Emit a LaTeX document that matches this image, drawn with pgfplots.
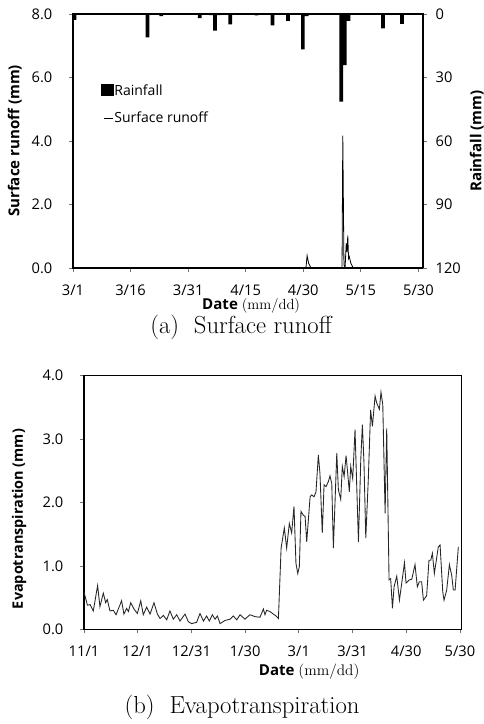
\documentclass[border=0pt]{standalone}
\usepackage{fontspec}
\setsansfont{Open Sans}
\usepackage{pgfplots}
\pgfplotsset{compat=1.18}

\pgfplotsset{
  common/.style={
    scale only axis,
    axis line style={line width=1.1pt},
    tick style={black!55, line width=0.6pt},
    major tick length=3pt,
    tick align=outside,
    ticklabel style={font=\sffamily\fontsize{11}{13}\selectfont},
    /pgf/number format/assume math mode=true,
    label style={font=\sffamily\fontsize{11.3}{13}\selectfont},
  },
  onedec/.style={yticklabel={\pgfmathprintnumber[fixed,fixed zerofill,precision=1]{\tick}}},
}

\begin{document}
\begin{tikzpicture}
\path[use as bounding box] (0,0) rectangle (363pt,-543pt);

% (a) surface runoff, left axis
\begin{axis}[common, onedec,
  at={(54.75pt,-201pt)}, anchor=south west,
  width=262.5pt, height=190.5pt,
  xmin=0, xmax=91.2, ymin=0, ymax=8,
  xtick={0,15,30,45,60,75,90},
  xticklabels={3/1,3/16,3/31,4/15,4/30,5/15,5/30},
  ytick={0,2,4,6,8},
  xtick pos=bottom, ytick pos=left,
  xticklabel style={yshift=-6pt},
  yticklabel style={xshift=-9pt},
  ylabel={\bfseries Surface runoff (mm)},
  ylabel style={at={(axis description cs:-0.166,0.5)}, anchor=center},
  xlabel={\bfseries Date {\rmfamily\mdseries\fontsize{11}{12}\selectfont(mm/dd)}},
  xlabel style={at={(axis description cs:0.509,-0.148)}, anchor=center},
]
\addplot[black, line width=0.6pt] coordinates {
(0,0) (60.7,0) (61.0,0.39) (61.4,0.15) (62.0,0) (70.1,0) (70.3,4.17)
(70.6,0.1) (70.9,0.02) (71.2,0.78) (71.4,0.5) (71.6,1.02) (71.8,0.3)
(72.0,0.36) (72.4,0.15) (73.0,0) (91.2,0)
};
\end{axis}

% (a) rainfall, right axis, reversed
\begin{axis}[common,
  at={(54.75pt,-201pt)}, anchor=south west,
  width=262.5pt, height=190.5pt,
  xmin=0, xmax=91.2, ymin=0, ymax=120, y dir=reverse,
  axis x line=none, axis y line*=right,
  ytick={0,30,60,90,120},
  yticklabel style={xshift=3pt},
  ybar, bar width=2.8pt,
  ylabel={\bfseries Rainfall (mm)},
  ylabel style={at={(axis description cs:1.154,0.5)}, anchor=center},
  legend style={draw=none, fill=none, at={(0.068,0.745)}, anchor=north west,
    font=\sffamily\fontsize{10.5}{12}\selectfont, row sep=7pt,
    nodes={inner xsep=0.5pt}},
  legend cell align=left,
]
\addplot[fill=black, draw=none, bar shift=0pt,
  legend image code/.code={\fill[black] (0pt,-4pt) rectangle (9.5pt,5pt);}]
  coordinates {
(0.4,2.8) (19.4,11) (23,1) (33,1.9) (36,0.5) (37,7.9) (38,0.5) (41,4.9)
(47.8,0.7) (52,5.4) (56,3.2) (59.9,16.7) (60.9,1) (69.9,41.4) (70.8,24.1)
(71.8,3.3) (80.8,6.8) (85.7,4.7)
};
\addlegendentry{Rainfall}
\addlegendimage{legend image code/.code={\draw[black, line width=0.6pt] (2pt,0pt) -- (9pt,0pt);}}
\addlegendentry{Surface runoff}
\end{axis}

\node[font=\fontsize{18.5}{21}\selectfont] at (180.75pt,-245.5pt) {(a)~~Surface runoff};

% (b) evapotranspiration
\begin{axis}[common, onedec,
  at={(63pt,-471.98pt)}, anchor=south west,
  width=283.3pt, height=190.2pt,
  xmin=0, xmax=211, ymin=0, ymax=4,
  xtick={0,30,60,90,120,150,180,210},
  xticklabels={11/1,12/1,12/31,1/30,3/1,3/31,4/30,5/30},
  ytick={0,1,2,3,4},
  xtick pos=bottom, ytick pos=left,
  xticklabel style={yshift=-6pt},
  yticklabel style={xshift=-9pt},
  ylabel={\bfseries Evapotranspiration (mm)},
  ylabel style={at={(axis description cs:-0.172,0.435)}, anchor=center,
    font=\sffamily\fontsize{10.8}{13}\selectfont},
  xlabel={\bfseries Date {\rmfamily\mdseries\fontsize{11.5}{12}\selectfont(mm/dd)}},
  xlabel style={at={(axis description cs:0.596,-0.168)}, anchor=center},
]
\addplot[black!85, line width=0.65pt] coordinates {
(0,0.59) (1.9,0.38) (3.4,0.39) (5.2,0.29) (7.6,0.69) (8.9,0.36) (10.8,0.57)
(12.1,0.42) (13.0,0.47) (14.5,0.29) (16.4,0.30) (17.9,0.23) (21.0,0.45)
(22.3,0.24) (23.8,0.33) (24.8,0.28) (26.1,0.42) (27.9,0.32) (29.8,0.25)
(31.7,0.45) (33.1,0.23) (35.0,0.35) (36.9,0.24) (39.1,0.42) (41.0,0.24)
(42.5,0.17) (44.3,0.22) (46.2,0.15) (48.0,0.29) (49.9,0.16) (51.8,0.23)
(53.6,0.13) (56.4,0.24) (58.3,0.12) (60.1,0.09) (62.9,0.11) (64.8,0.25)
(66.7,0.13) (68.5,0.21) (70.0,0.13) (71.7,0.23) (73.2,0.16) (74.5,0.21)
(76.0,0.09) (78.8,0.14) (81.6,0.16) (83.4,0.21) (85.3,0.15) (87.2,0.23)
(89.9,0.16) (92.7,0.23) (95.5,0.20) (98.3,0.19) (100.2,0.32) (101.1,0.23)
(102.0,0.30) (103.9,0.28) (105.8,0.24) (107.3,0.21) (108.6,0.17)
(110.1,1.28) (111.9,1.60) (113.2,1.28) (114.7,1.67) (116.0,1.52)
(117.3,1.94) (118.4,1.04) (119.4,0.88) (120.3,0.99) (121.2,1.86)
(122.5,1.80) (123.5,1.78) (124.4,1.38) (126.3,2.09) (127.2,2.12)
(128.5,2.09) (129.6,2.17) (130.9,2.75) (131.8,2.46) (133.1,1.52)
(134.1,2.28) (135.2,2.25) (136.5,2.33) (137.4,2.42) (138.4,2.30)
(139.3,1.28) (141.2,2.78) (142.1,2.20) (143.4,2.05) (144.3,2.57)
(145.3,2.41) (146.4,2.74) (147.3,2.46) (148.2,2.17) (149.0,2.57)
(150.1,2.38) (151.4,3.15) (152.3,2.30) (153.3,1.38) (154.6,2.67)
(155.5,3.23) (156.4,2.62) (157.4,1.44) (158.8,2.36) (160.1,3.46)
(161.1,3.20) (162.6,3.68) (163.5,3.57) (165.0,3.47) (165.9,3.74)
(166.9,3.54) (168.2,1.83) (169.1,3.17) (170.4,0.78) (171.3,0.80)
(172.3,0.33) (173.2,0.67) (174.7,0.84) (176.2,0.46) (177.5,0.73)
(179.0,1.05) (179.9,0.73) (181.8,0.78) (183.1,0.79) (184.9,1.02)
(186.2,0.67) (187.3,0.75) (188.6,0.75) (189.6,0.46) (191.4,0.53)
(192.7,1.09) (193.7,1.09) (194.6,1.20) (195.7,0.88) (197.9,1.30)
(198.9,1.33) (200.4,0.59) (201.1,0.46) (202.6,0.62) (204.1,1.02)
(205.4,0.85) (206.3,0.62) (207.3,0.62) (209.1,1.30)
};
\end{axis}

\node[font=\fontsize{18.5}{21}\selectfont] at (181.5pt,-530.25pt) {(b)~~Evapotranspiration};
\end{tikzpicture}
\end{document}
